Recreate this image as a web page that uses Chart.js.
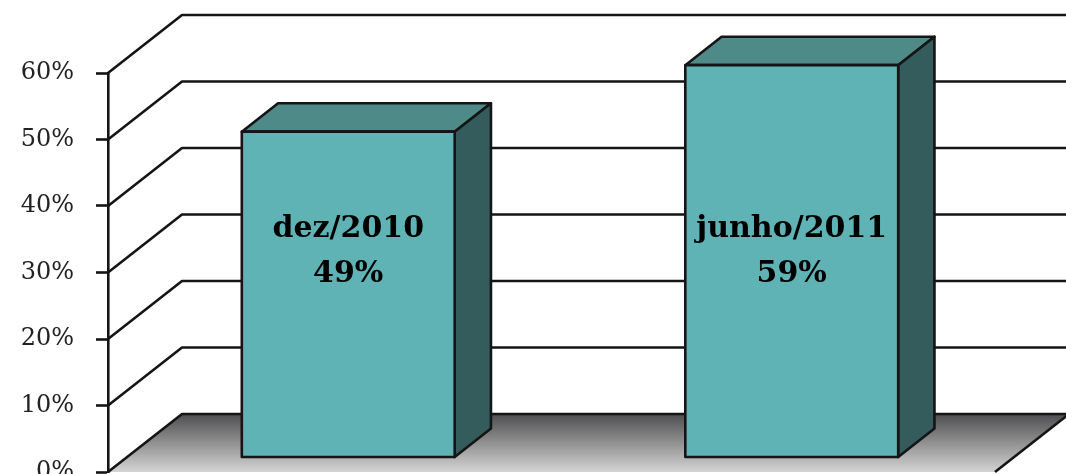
<!DOCTYPE html>
<html>
<head>
<meta charset="utf-8">
<script src="https://cdn.jsdelivr.net/npm/chart.js@4/dist/chart.umd.min.js"></script>
<style>
html, body { margin: 0; padding: 0; background: #fff; overflow: hidden; }
#wrap { position: relative; width: 1066px; height: 474px; }
</style>
</head>
<body>
<div id="wrap"><canvas id="chart"></canvas></div>
<script>
const categories = ['dez/2010', 'junho/2011'];
const values = [0.49, 0.59];
const tickValues = [0, 0.1, 0.2, 0.3, 0.4, 0.5, 0.6];
const labelLevel = 0.31; // where the text sits inside the bars

// 3d look
const DX = 74, DY = -58;
const FRONT = 0.25, BACK = 0.74;
const LINE = '#151515';
const FACE = '#5fb3b5', TOP = '#4d8a88', SIDE = '#345c5d';

const box3d = {
    id: 'box3d',
    beforeDatasetsDraw(chart) {
        const ctx = chart.ctx;
        const { left, right, bottom } = chart.chartArea;
        const y = chart.scales.y;

        ctx.save();
        ctx.lineWidth = 2.6;
        ctx.strokeStyle = LINE;
        ctx.lineJoin = 'round';

        // floor
        const grad = ctx.createLinearGradient(0, bottom + DY, 0, bottom);
        grad.addColorStop(0, '#4e4e50');
        grad.addColorStop(1, '#d4d4d4');
        ctx.beginPath();
        ctx.moveTo(left, bottom);
        ctx.lineTo(left + DX, bottom + DY);
        ctx.lineTo(right + DX, bottom + DY);
        ctx.lineTo(right, bottom);
        ctx.closePath();
        ctx.fillStyle = grad;
        ctx.fill();
        ctx.beginPath();
        ctx.moveTo(right, bottom);
        ctx.lineTo(right + DX, bottom + DY);
        ctx.stroke();

        // side wall diagonals + back wall grid
        tickValues.forEach(v => {
            const yp = y.getPixelForValue(v);
            ctx.beginPath();
            ctx.moveTo(left, yp);
            ctx.lineTo(left + DX, yp + DY);
            ctx.lineTo(right + DX + 20, yp + DY);
            ctx.stroke();
        });

        // bars
        const meta = chart.getDatasetMeta(0);
        const bx = (BACK - FRONT) * DX, by = (BACK - FRONT) * DY;
        meta.data.forEach((el, i) => {
            const p = el.getProps(['x', 'y', 'base', 'width'], true);
            const fx = p.x - p.width / 2 + FRONT * DX;
            const fy = p.y + FRONT * DY;
            const fw = p.width, fh = p.base - p.y;

            ctx.beginPath();
            ctx.moveTo(fx, fy);
            ctx.lineTo(fx + bx, fy + by);
            ctx.lineTo(fx + fw + bx, fy + by);
            ctx.lineTo(fx + fw, fy);
            ctx.closePath();
            ctx.fillStyle = TOP;
            ctx.fill();
            ctx.stroke();

            ctx.beginPath();
            ctx.moveTo(fx + fw, fy);
            ctx.lineTo(fx + fw + bx, fy + by);
            ctx.lineTo(fx + fw + bx, fy + fh + by);
            ctx.lineTo(fx + fw, fy + fh);
            ctx.closePath();
            ctx.fillStyle = SIDE;
            ctx.fill();
            ctx.stroke();

            ctx.fillStyle = FACE;
            ctx.fillRect(fx, fy, fw, fh);
            ctx.strokeRect(fx, fy, fw, fh);

            // label
            const ly = y.getPixelForValue(labelLevel) + FRONT * DY;
            ctx.fillStyle = '#000';
            ctx.font = 'bold 30px "DejaVu Serif"';
            ctx.textAlign = 'center';
            ctx.textBaseline = 'middle';
            ctx.fillText(categories[i], fx + fw / 2, ly - 22);
            ctx.fillText(Math.round(values[i] * 100) + '%', fx + fw / 2, ly + 23);
        });
        ctx.restore();
    },
    beforeDatasetDraw() {
        return false;
    }
};

new Chart(document.getElementById('chart'), {
    type: 'bar',
    data: {
        labels: categories,
        datasets: [{
            data: values,
            backgroundColor: FACE,
            categoryPercentage: 0.8,
            barPercentage: 0.6
        }]
    },
    options: {
        responsive: true,
        maintainAspectRatio: false,
        animation: false,
        layout: { padding: { top: 73, right: 71, bottom: 2, left: 0 } },
        plugins: { legend: { display: false }, tooltip: { enabled: false } },
        scales: {
            x: { display: false },
            y: {
                min: 0,
                max: 0.6,
                afterBuildTicks(scale) {
                    scale.ticks = tickValues.map(v => ({ value: v }));
                },
                afterFit(scale) {
                    scale.width = 108;
                    // let the 0% label run off the bottom edge like the original
                    scale.paddingTop = 0;
                    scale.paddingBottom = 0;
                },
                ticks: {
                    callback: v => Math.round(v * 100) + '%',
                    font: { family: '"DejaVu Serif"', size: 24 },
                    color: '#222',
                    padding: 22
                },
                grid: {
                    drawOnChartArea: false,
                    drawTicks: true,
                    tickLength: 12,
                    tickWidth: 2.6,
                    tickColor: LINE
                },
                border: { color: LINE, width: 2.6 }
            }
        }
    },
    plugins: [box3d]
});
</script>
</body>
</html>
